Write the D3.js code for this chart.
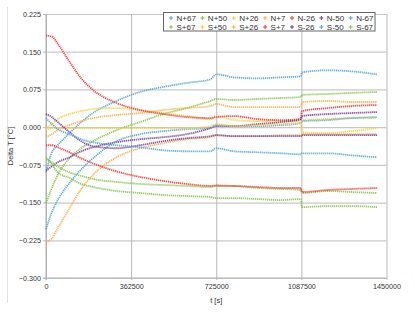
<!DOCTYPE html>
<html>
<head>
<meta charset="utf-8">
<script src="https://cdn.jsdelivr.net/npm/d3@7"></script>
<style>
  body { margin: 0; background: #fff; }
  text { font-family: "Liberation Sans", Arial, sans-serif; fill: #333; }
</style>
</head>
<body>
<div id="chart"></div>
<script>
var svgWidth = 415;
var svgHeight = 312;

// time samples (s)
var times = [0, 25000, 50000, 100000, 150000, 200000, 300000, 400000, 500000, 600000,
  700000, 725000, 800000, 900000, 1000000, 1085000, 1090000, 1200000, 1300000, 1410000];

var seriesNames = ["N+67", "N+50", "N+26", "N+7", "N-26", "N-50", "N-67",
  "S+67", "S+50", "S+26", "S+7", "S-26", "S-50", "S-67"];

var seriesColors = ["#4ea3d8", "#7dc743", "#f4cf30", "#ffab40", "#ff2b2b", "#7433a0", "#4ea3d8",
  "#7dc743", "#f4cf30", "#ffab40", "#ff2b2b", "#7433a0", "#4ea3d8", "#7dc743"];

// Delta T values per series
var nP67 = [-0.090, -0.050, -0.036, -0.012, 0.010, 0.028, 0.052, 0.070, 0.080, 0.088,
  0.095, 0.105, 0.099, 0.097, 0.099, 0.101, 0.109, 0.113, 0.111, 0.105];
var nP50 = [-0.151, -0.121, -0.095, -0.062, -0.042, -0.028, -0.006, 0.010, 0.026, 0.038,
  0.052, 0.056, 0.054, 0.056, 0.058, 0.060, 0.064, 0.066, 0.068, 0.070];
var nP26 = [-0.002, 0.006, 0.016, 0.026, 0.032, 0.036, 0.038, 0.034, 0.028, 0.022,
  0.016, 0.022, 0.014, 0.012, 0.012, 0.012, 0.014, 0.016, 0.018, 0.018];
var nP7 = [-0.020, -0.014, -0.006, 0.004, 0.012, 0.018, 0.024, 0.028, 0.034, 0.038,
  0.042, 0.046, 0.040, 0.040, 0.040, 0.040, 0.050, 0.052, 0.050, 0.050];
var nM26 = [0.182, 0.180, 0.166, 0.130, 0.097, 0.074, 0.048, 0.034, 0.026, 0.020,
  0.018, 0.020, 0.022, 0.016, 0.014, 0.016, 0.032, 0.038, 0.042, 0.044];
var nM50 = [-0.086, -0.078, -0.070, -0.060, -0.048, -0.040, -0.030, -0.024, -0.020, -0.014,
  -0.002, 0.002, 0.002, 0.006, 0.010, 0.016, 0.022, 0.026, 0.028, 0.030];
var nM67 = [-0.203, -0.169, -0.145, -0.111, -0.084, -0.062, -0.028, -0.014, -0.008, -0.004,
  -0.002, 0.004, 0.002, 0.002, 0.004, 0.008, 0.012, 0.014, 0.018, 0.020];
var sP67 = [-0.064, -0.070, -0.078, -0.090, -0.097, -0.103, -0.109, -0.113, -0.115, -0.117,
  -0.119, -0.117, -0.117, -0.121, -0.123, -0.125, -0.131, -0.127, -0.129, -0.131];
var sP50 = [-0.006, -0.002, -0.002, -0.002, -0.002, -0.002, -0.002, -0.002, -0.002, -0.002,
  0.002, 0.006, 0.002, 0.004, 0.006, 0.008, -0.010, -0.012, -0.008, -0.002];
var sP26 = [-0.229, -0.221, -0.201, -0.161, -0.123, -0.095, -0.060, -0.042, -0.032, -0.024,
  -0.020, -0.016, -0.018, -0.018, -0.016, -0.016, -0.014, -0.014, -0.014, -0.014];
var sP7 = [-0.036, -0.036, -0.040, -0.050, -0.062, -0.072, -0.088, -0.099, -0.107, -0.113,
  -0.117, -0.116, -0.117, -0.119, -0.121, -0.121, -0.129, -0.125, -0.123, -0.121];
var sM26 = [0.026, 0.020, 0.010, -0.010, -0.028, -0.038, -0.042, -0.036, -0.028, -0.022,
  -0.018, -0.016, -0.018, -0.018, -0.018, -0.018, -0.016, -0.016, -0.016, -0.016];
var sM50 = [0.018, 0.006, -0.004, -0.014, -0.024, -0.030, -0.036, -0.040, -0.046, -0.048,
  -0.048, -0.042, -0.048, -0.050, -0.052, -0.054, -0.052, -0.052, -0.056, -0.060];
var sM67 = [-0.060, -0.074, -0.090, -0.101, -0.113, -0.119, -0.127, -0.131, -0.135, -0.137,
  -0.139, -0.141, -0.141, -0.143, -0.145, -0.143, -0.159, -0.157, -0.157, -0.159];

var seriesValues = [nP67, nP50, nP26, nP7, nM26, nM50, nM67,
  sP67, sP50, sP26, sP7, sM26, sM50, sM67];

var xTicks = [0, 362500, 725000, 1087500, 1450000];
var yTicks = [-0.3, -0.225, -0.15, -0.075, 0, 0.075, 0.15, 0.225];

var plot = { left: 46, right: 386.5, top: 14, bottom: 278 };

var svg = d3.select("#chart")
  .append("svg")
  .attr("width", svgWidth)
  .attr("height", svgHeight);

// faint outer frame edge on the left
svg.append("line")
  .attr("x1", 7.5).attr("x2", 7.5)
  .attr("y1", 7).attr("y2", 303)
  .attr("stroke", "#e2e2e2");

var xScale = d3.scaleLinear()
  .domain([0, 1450000])
  .range([plot.left, plot.right]);

var yScale = d3.scaleLinear()
  .domain([-0.3, 0.225])
  .range([plot.bottom, plot.top]);

// horizontal grid + y labels
var yAxis = svg.append("g")
  .attr("transform", `translate(${plot.left}, 0)`)
  .call(d3.axisLeft(yScale)
    .tickValues(yTicks)
    .tickSize(-(plot.right - plot.left))
    .tickPadding(5)
    .tickFormat(d3.format(".3f")));
yAxis.select(".domain").remove();
yAxis.selectAll("line")
  .attr("stroke", "#c8c8c8")
  .attr("stroke-width", 1.2)
  .attr("x1", -3);
yAxis.selectAll("text")
  .attr("font-size", 7.2)
  .attr("fill", "#333")
  .attr("font-family", "Liberation Sans, Arial, sans-serif");

// vertical grid + x labels
var xAxis = svg.append("g")
  .attr("transform", `translate(0, ${plot.bottom})`)
  .call(d3.axisBottom(xScale)
    .tickValues(xTicks)
    .tickSize(-(plot.bottom - plot.top))
    .tickPadding(6)
    .tickFormat(d3.format("d")));
xAxis.select(".domain").remove();
xAxis.selectAll("line")
  .attr("stroke", "#b8b8b8")
  .attr("stroke-width", 1)
  .attr("y1", 2);
xAxis.selectAll("text")
  .attr("font-size", 7.2)
  .attr("fill", "#333")
  .attr("font-family", "Liberation Sans, Arial, sans-serif");

// axis lines (left + bottom)
svg.append("line")
  .attr("x1", plot.left).attr("x2", plot.left)
  .attr("y1", plot.top).attr("y2", plot.bottom + 2)
  .attr("stroke", "#b0b0b0");
svg.append("line")
  .attr("x1", plot.left - 3).attr("x2", plot.right)
  .attr("y1", plot.bottom).attr("y2", plot.bottom)
  .attr("stroke", "#b0b0b0");

// data series
var line = d3.line()
  .x(d => xScale(d.t))
  .y(d => yScale(d.v))
  .curve(d3.curveMonotoneX);

seriesNames.forEach(function(name, i) {
  var pts = times.map((t, j) => ({ t: t, v: seriesValues[i][j] }));
  svg.append("path")
    .datum(pts)
    .attr("fill", "none")
    .attr("stroke", seriesColors[i])
    .attr("stroke-width", 1.8)
    .attr("stroke-dasharray", "1.3,0.7")
    .attr("opacity", 0.85)
    .attr("d", line);
});

// axis titles
svg.append("text")
  .attr("x", (plot.left + plot.right) / 2)
  .attr("y", 303)
  .attr("text-anchor", "middle")
  .attr("font-size", 7.5)
  .text("t [s]");

svg.append("text")
  .attr("transform", `translate(13, ${(plot.top + plot.bottom) / 2}) rotate(-90)`)
  .attr("text-anchor", "middle")
  .attr("font-size", 7.5)
  .text("Delta T [°C]");

// legend: 2 rows x 7 columns
var legend = svg.append("g");
var legendBox = legend.append("rect")
  .attr("fill", "#fff")
  .attr("stroke", "#666")
  .attr("stroke-width", 1);

var colX = 167;
for (var c = 0; c < 7; c++) {
  var w = 0;
  [seriesNames[c], seriesNames[c + 7]].forEach(function(name, r) {
    var idx = c + r * 7;
    var cy = 18 + r * 9;
    var mx = colX + 4;
    legend.append("path")
      .attr("d", `M${mx - 2},${cy}H${mx + 2}M${mx},${cy - 2}V${cy + 2}`)
      .attr("stroke", seriesColors[idx])
      .attr("stroke-width", 1);
    var t = legend.append("text")
      .attr("x", colX + 9.5)
      .attr("y", cy + 3)
      .attr("font-size", 8)
      .text(name);
    w = Math.max(w, t.node().getComputedTextLength());
  });
  colX += w + 12;
}

legendBox
  .attr("x", 163.5)
  .attr("y", 12.5)
  .attr("width", colX - 163.5 - 1)
  .attr("height", 18.5);
</script>
</body>
</html>
